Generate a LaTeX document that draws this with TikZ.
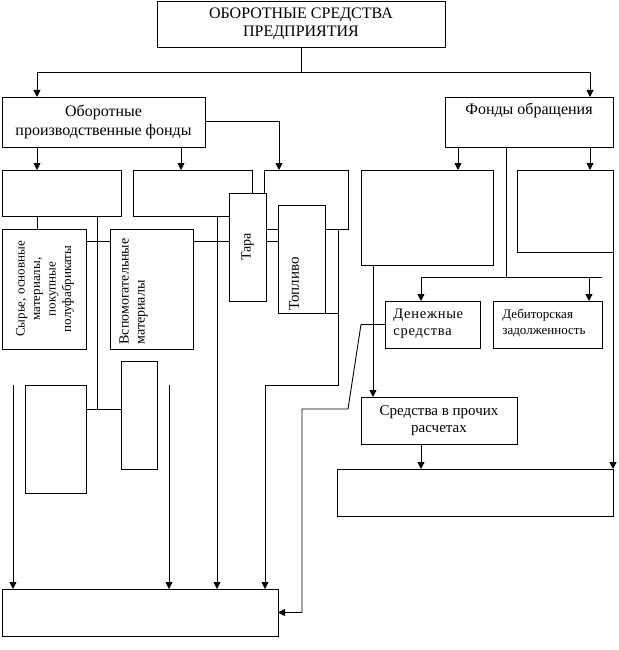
\documentclass[tikz,border=0pt]{standalone}
\usepackage{fontspec}
\setmainfont{Liberation Serif}
\usetikzlibrary{arrows.meta,calc}
\begin{document}
\begin{tikzpicture}[x=1pt,y=-1pt, line width=0.9pt,
 box/.style={draw, fill=white, anchor=north west, inner sep=0pt, outer sep=0pt},
 arr/.style={-{Triangle[length=7pt,width=7pt]}},
 big/.style={font=\fontsize{16}{18.5}\selectfont, align=center},
 lbl/.style={font=\fontsize{15}{17}\selectfont, inner sep=0pt},
 rot/.style={font=\fontsize{13}{15.5}\selectfont, inner sep=0pt, rotate=90}]
\useasboundingbox (0,0) rectangle (618,650);
% boxes
\node[box, big, minimum width=288pt, minimum height=46pt] (top) at (157,1) {ОБОРОТНЫЕ СРЕДСТВА\\ПРЕДПРИЯТИЯ};
\node[box, big, minimum width=203pt, minimum height=50pt] (lpf) at (2,97) {Оборотные\\производственные фонды};
\node[box, minimum width=168pt, minimum height=50pt] (fo) at (445,97) {};
\node[big, inner sep=0pt, anchor=north] (fot) at ([yshift=-6pt]fo.north) {Фонды обращения};
\node[box, minimum width=119pt, minimum height=46pt] (a) at (2,170) {};
\node[box, minimum width=119pt, minimum height=46pt] (b) at (133,170) {};
\node[box, minimum width=84pt, minimum height=59pt] (c) at (264,170) {};
\node[box, minimum width=84pt, minimum height=120pt] (syr) at (2,229) {};
\node[rot, align=center] (syrt) at ([xshift=1pt]syr.center) {Сырье, основные\\материалы,\\покупные\\полуфабрикаты};
\node[box, minimum width=83pt, minimum height=120pt] (vsp) at (110,229) {};
\node[rot, align=left, anchor=north west, font=\fontsize{14}{16}\selectfont] (vspt) at (119,345) {Вспомогательные\\материалы};
\node[box, minimum width=61pt, minimum height=108pt] (d) at (25,385) {};
\node[box, minimum width=36pt, minimum height=108pt] (e) at (121,361) {};
\node[box, minimum width=276pt, minimum height=47pt] (bot) at (2,589) {};
\node[box, minimum width=132pt, minimum height=95pt] (f) at (361,170) {};
\node[box, minimum width=96pt, minimum height=82pt] (g) at (517,170) {};
\node[box, minimum width=95pt, minimum height=47pt] (den) at (385,301) {};
\node[lbl, align=left, anchor=west, font=\fontsize{14.5}{17}\selectfont\addfontfeature{LetterSpace=5}] (dent) at (393,324) {Денежные\\средства};
\node[box, minimum width=109pt, minimum height=47pt] (deb) at (493,301) {};
\node[lbl, align=left, anchor=west, font=\fontsize{13}{15.5}\selectfont] (debt) at (502,323) {Дебиторская\\задолженность};
\node[box, lbl, align=center, minimum width=156pt, minimum height=47pt] (sr) at (361,397) {Средства в прочих\\расчетах};
\node[box, minimum width=276pt, minimum height=47pt] (h) at (337,469) {};
% top connectors
\draw (top.south) -- ++(0,25) coordinate (j1);
\draw[arr] (j1) -| ([xshift=35pt]lpf.north west);
\draw[arr] (j1) -| ([xshift=-23pt]fo.north east);
% from lpf
\draw[arr] ([xshift=35pt]lpf.south west) coordinate (t1) -- (t1 |- a.north);
\draw[arr] ([xshift=-24pt]lpf.south east) coordinate (t2) -- (t2 |- b.north);
\draw[arr] ([yshift=-24pt]lpf.north east) -| ([xshift=15pt]c.north west);
% from fo
\draw[arr] ([xshift=13pt]fo.south west) coordinate (t3) -- (t3 |- f.north);
\draw[arr] ([xshift=-23pt]fo.south east) coordinate (t4) -- (t4 |- g.north);
\draw ([xshift=61pt]fo.south west) -- ++(0,130) coordinate (j2);
\path ([xshift=36pt]den.north west) coordinate (dt);
\path ([xshift=-13pt]deb.north east) coordinate (dbt);
\draw (j2 -| dt) -- (j2 -| deb.east);
\draw[arr] (j2 -| dt) -- (dt);
\draw[arr] (j2 -| dbt) -- (dbt);
\draw[arr] ([xshift=12pt]f.south west) coordinate (t5) -- (t5 |- sr.north);
\draw[arr] ([xshift=60pt]sr.south west) coordinate (t6) -- (t6 |- h.north);
\draw[arr] (g.south east) -- (h.north east);
\draw[arr] (den.west) -- ++(-24,0) -- ++(-13,84.5) coordinate (k) -- ++(-46,0) |- (bot.east);
% left side
\draw ([xshift=35pt]a.south west) coordinate (t7) -- (t7 |- syr.north);
\path ([yshift=-24pt]d.north east) coordinate (de);
\draw (de) -- (de -| e.west);
\draw ([xshift=95pt]a.south west) coordinate (t8) -- (t8 |- de);
\path ([yshift=-12pt]syr.north east) coordinate (r1);
\draw (r1) -- (r1 -| vsp.west);
\draw (r1 -| vsp.east) -- (r1 -| c.west);
\draw[arr] ([xshift=84pt]b.south west) coordinate (t9) -- (t9 |- bot.north);
\draw[arr] ([xshift=-10pt]c.south east) coordinate (t10) -- ++(0,156) -| ([xshift=-13pt]bot.north east);
\coordinate (s1) at (13,385);
\coordinate (s2) at (169,385);
\draw[arr] (s1) -- (s1 |- bot.north);
\draw[arr] (s2) -- (s2 |- bot.north);
% overlapping boxes
\node[box, minimum width=37pt, minimum height=108pt] (tara) at (229,193) {};
\node[rot, font=\fontsize{14}{15}\selectfont] (tarat) at (247.5,247) {Тара};
\node[box, minimum width=47pt, minimum height=108pt] (topl) at (278,205) {};
\node[rot, font=\fontsize{15}{15}\selectfont] (toplt) at (294,284) {Топливо};
\draw (topl.south east) -- (topl.south east -| t10);
\draw (r1 -| tara.east) -- (r1 -| topl.west);
\end{tikzpicture}
\end{document}
